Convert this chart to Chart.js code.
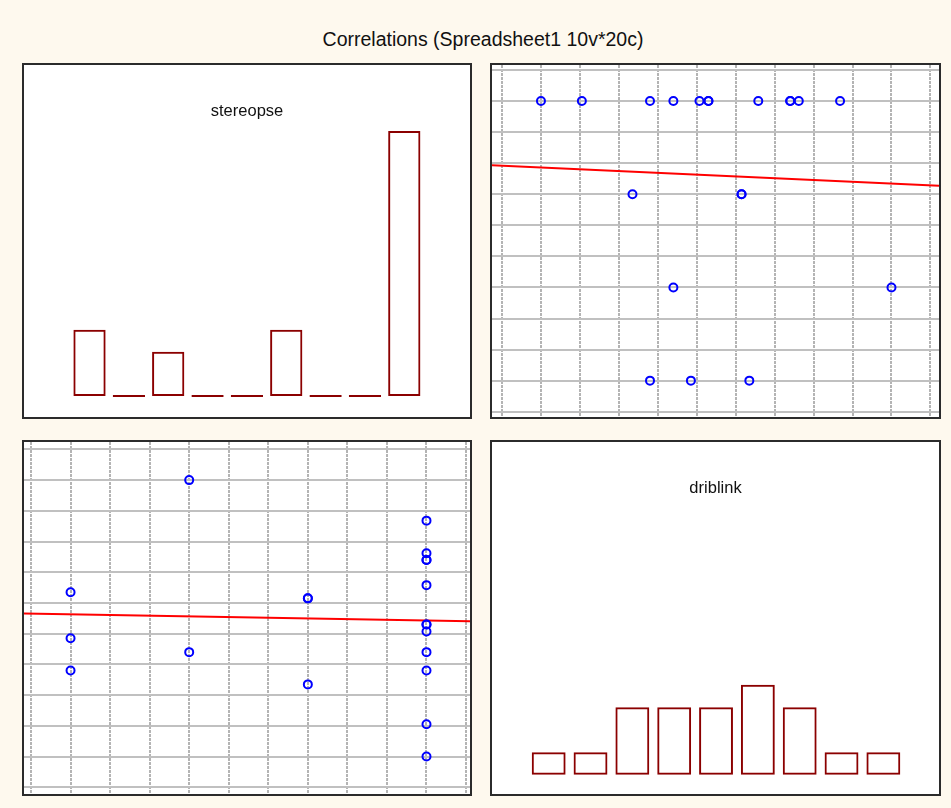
<!DOCTYPE html>
<html>
<head>
<meta charset="utf-8">
<title>Correlations</title>
<script src="https://cdn.jsdelivr.net/npm/chart.js@4/dist/chart.umd.min.js"></script>
<style>
  html, body { margin: 0; padding: 0; background: #fef9ee; }
  body { width: 951px; height: 808px; position: relative; overflow: hidden;
         font-family: "Liberation Sans", Arial, sans-serif; }
  #title { position: absolute; left: 0; width: 966px; top: 27px; text-align: center;
           font-size: 19.5px; line-height: 24px; color: #111; }
  .panel { position: absolute; box-sizing: border-box; border: 2px solid #2b2b2b; background: #fff; }
  .panel canvas { display: block; }
</style>
</head>
<body>
<div id="title">Correlations (Spreadsheet1 10v*20c)</div>
<div class="panel" style="left:22px;top:63px;width:450px;height:356px"><canvas id="c11" width="446" height="352"></canvas></div>
<div class="panel" style="left:490px;top:63px;width:451px;height:356px"><canvas id="c12" width="447" height="352"></canvas></div>
<div class="panel" style="left:22px;top:440px;width:450px;height:356px"><canvas id="c21" width="446" height="352"></canvas></div>
<div class="panel" style="left:490px;top:440px;width:451px;height:356px"><canvas id="c22" width="447" height="352"></canvas></div>

<script>
// Variable names (diagonal of the matrix)
const variableNames = ['stereopse', 'driblink'];

// The 20 cases, one value per case
const stereopse = [1, 1, 1, 4, 4, 7, 7, 7, 10, 10, 10, 10, 10, 10, 10, 10, 10, 10, 10, 10];
const driblink  = [3.80, 4.85, 6.35, 4.40, 10.00, 3.35, 6.15, 6.15,
                   1.00, 2.05, 3.80, 4.40, 5.07, 5.30, 5.30, 6.58, 7.40, 7.40, 7.62, 8.68];

// Histogram bins (centres) and frequencies
const binCentres      = [1.5, 2.5, 3.5, 4.5, 5.5, 6.5, 7.5, 8.5, 9.5];
const stereopseCounts = [3, 0, 2, 0, 0, 3, 0, 0, 12];
const driblinkCounts  = [1, 1, 3, 3, 3, 4, 3, 1, 1];

// Grid step for the scatter panels
const gridStep = 1;

const FONT = '"Liberation Sans", Arial, sans-serif';

// Writes the variable name at the top of a diagonal panel
const panelName = {
  id: 'panelName',
  afterDraw(chart, args, opts) {
    if (!opts || !opts.text) return;
    const { ctx, chartArea } = chart;
    ctx.save();
    ctx.font = '16.5px ' + FONT;
    ctx.fillStyle = '#111';
    ctx.textAlign = 'center';
    ctx.textBaseline = 'alphabetic';
    ctx.fillText(opts.text, (chartArea.left + chartArea.right) / 2, chartArea.top + opts.baseline);
    ctx.restore();
  }
};

const common = {
  responsive: false,
  animation: false,
  devicePixelRatio: 1,
  layout: { padding: 0, autoPadding: false },
  events: []
};

function histogram(id, name, counts, xr, yr, barPct) {
  return new Chart(document.getElementById(id), {
    type: 'bar',
    data: {
      datasets: [{
        data: binCentres.map((c, i) => ({ x: c, y: counts[i] })),
        backgroundColor: 'rgba(0,0,0,0)',
        borderColor: '#8b0000',
        borderWidth: 2,
        borderSkipped: false,
        minBarLength: 2,
        barPercentage: barPct,
        categoryPercentage: 1
      }]
    },
    options: Object.assign({}, common, {
      scales: {
        x: { type: 'linear', min: xr[0], max: xr[1], display: false,
             afterBuildTicks: s => { s.ticks = []; } },
        y: { type: 'linear', min: yr[0], max: yr[1], display: false }
      },
      plugins: {
        legend: { display: false },
        tooltip: { enabled: false },
        panelName: { text: name, baseline: 51 }
      }
    }),
    plugins: [panelName]
  });
}

// Least-squares line of ys on xs
function fit(xs, ys) {
  const n = xs.length;
  const mx = xs.reduce((a, b) => a + b, 0) / n;
  const my = ys.reduce((a, b) => a + b, 0) / n;
  let sxy = 0, sxx = 0;
  for (let i = 0; i < n; i++) { sxy += (xs[i] - mx) * (ys[i] - my); sxx += (xs[i] - mx) ** 2; }
  const b = sxy / sxx;
  return { a: my - b * mx, b };
}

function scatter(id, xs, ys, xr, yr) {
  const f = fit(xs, ys);
  const line = [xr[0], xr[1]].map(x => ({ x, y: f.a + f.b * x }));
  const pts = xs.map((x, i) => ({ x, y: ys[i] }));
  const axis = (r, vertical) => ({
    type: 'linear', min: r[0], max: r[1],
    ticks: { display: false, stepSize: gridStep, includeBounds: false },
    grid: { color: vertical ? '#b4b4b4' : '#c0c0c0', lineWidth: 2, drawTicks: false },
    border: { display: false, dash: vertical ? [3, 1] : [] }
  });
  return new Chart(document.getElementById(id), {
    type: 'scatter',
    data: {
      datasets: [
        { type: 'line', data: line, borderColor: '#ff0000', borderWidth: 2,
          pointRadius: 0, fill: false, order: 2 },
        { data: pts, pointStyle: 'circle', pointRadius: 4, pointBorderWidth: 2,
          borderColor: '#0000ff', backgroundColor: 'rgba(0,0,0,0)', order: 1 }
      ]
    },
    options: Object.assign({}, common, {
      scales: { x: axis(xr, true), y: axis(yr, false) },
      plugins: { legend: { display: false }, tooltip: { enabled: false } }
    })
  });
}

// Diagonal: histograms
histogram('c11', variableNames[0], stereopseCounts, [-0.165, 11.17], [-0.95, 14.99], 0.82);
histogram('c22', variableNames[1], driblinkCounts, [0.145, 10.83], [-0.86, 14.79], 0.81);

// Off-diagonal: scatter plots with fitted lines
scatter('c12', driblink, stereopse, [-0.257, 11.22], [-0.17, 11.16]);
scatter('c21', stereopse, driblink, [-0.177, 11.10], [-0.218, 11.24]);
</script>
</body>
</html>
